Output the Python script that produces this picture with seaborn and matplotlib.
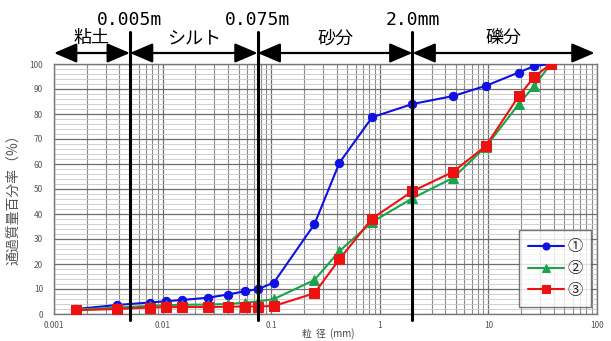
import numpy as np
import pandas as pd
import matplotlib
matplotlib.use("Agg")
import matplotlib.pyplot as plt
from matplotlib.ticker import LogLocator, MultipleLocator, FixedLocator, FixedFormatter
import seaborn as sns

# grain size (mm) and percent passing for the three samples
sizes = [0.0016, 0.0038, 0.0076, 0.0107, 0.015, 0.026, 0.04, 0.057, 0.075, 0.106,
         0.25, 0.425, 0.85, 2.0, 4.75, 9.5, 19.0, 26.5, 37.5]
pass_1 = [2.0, 3.6, 4.6, 5.1, 5.6, 6.5, 7.8, 9.1, 9.9, 12.6,
          35.9, 60.5, 78.7, 84.0, 87.2, 91.3, 96.6, 99.2, 100.0]
pass_2 = [1.8, 2.5, 3.3, 3.5, 3.7, 3.8, 4.0, 4.5, 5.0, 6.0,
          13.6, 25.2, 36.8, 46.3, 54.5, 67.0, 83.9, 91.3, 100.0]
pass_3 = [1.5, 2.0, 2.6, 2.7, 2.8, 2.8, 2.9, 3.0, 3.0, 3.2,
          8.3, 21.9, 38.2, 49.1, 56.9, 67.3, 87.1, 94.9, 100.0]
series_names = ["①", "②", "③"]
series_colors = ["#1010e0", "#1aa34a", "#ee1111"]
series_markers = ["o", "^", "s"]

# classification boundaries and their labels
bounds = [0.005, 0.075, 2.0]
bound_labels = ["0.005m", "0.075m", "2.0mm"]
zone_edges = [0.001, 0.005, 0.075, 2.0, 95]
zone_names = ["粘土", "シルト", "砂分", "礫分"]

x_ticks = [0.001, 0.01, 0.1, 1, 10, 100]
x_ticklabels = ["0.001", "0.01", "0.1", "1", "10", "100"]

sns.set_style("white")
plt.rcParams['font.family'] = ['Noto Sans CJK JP', 'DejaVu Sans']

fig = plt.figure(figsize=(6.11, 3.41), dpi=100)
ax = fig.add_axes([54/611, 27/341, 543/611, 250/341])

df = pd.DataFrame({"size": sizes * 3,
                   "pct": pass_1 + pass_2 + pass_3,
                   "sample": sum([[n] * len(sizes) for n in series_names], [])})

for name, col, mk in zip(series_names, series_colors, series_markers):
    sub = df[df["sample"] == name]
    sns.lineplot(data=sub, x="size", y="pct", ax=ax, color=col, marker=mk,
                 markersize=6.5 if mk != "o" else 6, markeredgecolor=col,
                 linewidth=1.5, label=name, sort=False, zorder=3)

ax.set_xscale("log")
ax.set_xlim(0.001, 100)
ax.set_ylim(0, 100)

ax.xaxis.set_major_locator(FixedLocator(x_ticks))
ax.xaxis.set_major_formatter(FixedFormatter(x_ticklabels))
ax.xaxis.set_minor_locator(LogLocator(base=10, subs=np.arange(2, 10)))
ax.xaxis.set_minor_formatter(plt.NullFormatter())
ax.yaxis.set_major_locator(MultipleLocator(10))
ax.yaxis.set_minor_locator(MultipleLocator(2))

ax.grid(which="major", axis="both", color="#6e6e6e", linewidth=0.9)
ax.grid(which="minor", axis="x", color="#8a8a8a", linewidth=0.8)
ax.grid(which="minor", axis="y", color="#c8c8c8", linewidth=0.6)
ax.set_axisbelow(True)
for s in ax.spines.values():
    s.set_color("#777777")
    s.set_linewidth(1.0)

ax.tick_params(axis="both", which="both", length=0, labelsize=6, labelcolor="#555555")
ax.tick_params(axis="x", pad=5)
ax.tick_params(axis="y", pad=8)

ax.set_xlabel("粒  径  (mm)", fontsize=7, color="#444444")
ax.xaxis.set_label_coords(0.505, -0.058)
ax.set_ylabel("通過質量百分率（%）", fontsize=10, color="#555555", labelpad=2)
ax.yaxis.set_label_coords(-0.062, 0.47)

# boundary lines and labels
for b, lab in zip(bounds, bound_labels):
    ax.plot([b, b], [-0.024, 1.13], color="black", linewidth=2.2,
            transform=ax.get_xaxis_transform(), clip_on=False, zorder=5)
    ax.text(b, 1.175, lab, transform=ax.get_xaxis_transform(), ha="center", va="center",
            fontsize=13, family="DejaVu Sans Mono", color="black")

# zone arrows and names
for x0, x1, name in zip(zone_edges[:-1], zone_edges[1:], zone_names):
    ax.annotate("", xy=(x1, 1.044), xytext=(x0, 1.044),
                xycoords=("data", "axes fraction"), textcoords=("data", "axes fraction"),
                arrowprops=dict(arrowstyle="<|-|>,head_length=0.7,head_width=0.3",
                                mutation_scale=20, color="black", lw=1.6,
                                shrinkA=0, shrinkB=0), annotation_clip=False)
    xc = np.sqrt(x0 * x1)
    ax.text(xc, 1.102, name, transform=ax.get_xaxis_transform(), ha="center",
            va="center", fontsize=13, color="black")

leg = ax.legend(loc="lower right", bbox_to_anchor=(0.989, 0.028), borderaxespad=0,
                fontsize=11, frameon=True, fancybox=False, handlelength=2.4,
                labelspacing=0.3, borderpad=0.55, handletextpad=0.2,
                markerscale=0.85)
leg.get_frame().set_edgecolor("#555555")
leg.get_frame().set_linewidth(1.0)

fig.savefig("out.png", dpi=100)
